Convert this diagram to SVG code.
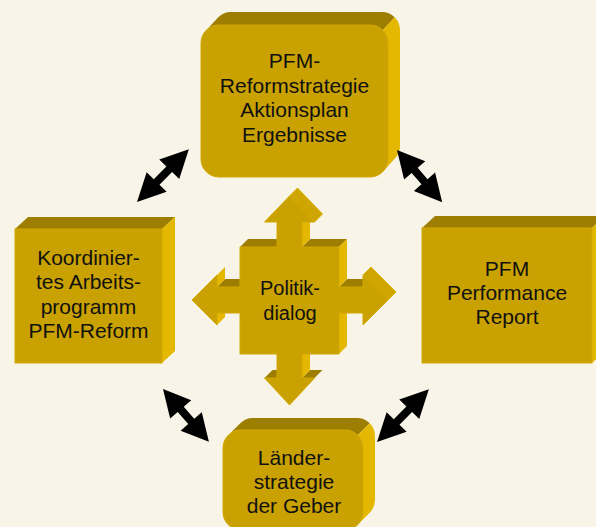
<svg xmlns="http://www.w3.org/2000/svg" width="596" height="527" viewBox="0 0 596 527">
<style>
.front{fill:#C9A100;stroke:#D2A800;stroke-width:1}
.top{fill:#9E7E00}
.side{fill:#E4B800}
.slant{fill:#CFA600;stroke:#DDB200;stroke-width:1}
.lbl{font-family:"Liberation Sans",Arial,sans-serif;font-size:21px;fill:#111;text-anchor:middle}
.dbl{fill:#000}
</style>
<rect width="596" height="527" fill="#F8F5E8"/>

<g id="node-reformstrategie">
<path class="top" d="M206.3,30.3 L218.3,17.3 A18,18 0 0 1 231,12 L382,12 A18,18 0 0 1 394.7,17.3 L382.7,30.3 A18,18 0 0 0 370,25 L219,25 A18,18 0 0 0 206.3,30.3 Z"/>
<path class="side" d="M382.7,30.3 L394.7,17.3 A18,18 0 0 1 400,30 L400,146 A18,18 0 0 1 394.7,158.7 L382.7,171.7 A18,18 0 0 0 388,159 L388,43 A18,18 0 0 0 382.7,30.3 Z"/>
<rect class="front" x="201" y="25" width="187" height="152" rx="18"/>
<text class="lbl" x="294.5" y="68">PFM-</text>
<text class="lbl" x="294.5" y="93">Reformstrategie</text>
<text class="lbl" x="294.5" y="117">Aktionsplan</text>
<text class="lbl" x="294.5" y="142">Ergebnisse</text>
</g>

<g id="node-arbeitsprogramm">
<polygon class="top" points="15,229 28,217 175,217 162,229"/>
<polygon class="side" points="162,229 175,217 175,351 162,363"/>
<rect class="front" x="15" y="229" width="147" height="134"/>
<text class="lbl" x="88.5" y="265">Koordinier-</text>
<text class="lbl" x="88.5" y="289">tes Arbeits-</text>
<text class="lbl" x="88.5" y="314">programm</text>
<text class="lbl" x="88.5" y="338">PFM-Reform</text>
</g>

<g id="node-performance-report">
<polygon class="top" points="422,228 435,216 605,216 592,228"/>
<polygon class="side" points="592,228 605,216 605,351 592,363"/>
<rect class="front" x="422" y="228" width="170" height="135"/>
<text class="lbl" x="507" y="275.5">PFM</text>
<text class="lbl" x="507" y="299.5">Performance</text>
<text class="lbl" x="507" y="323.5">Report</text>
</g>

<g id="node-laenderstrategie">
<path class="top" d="M228.3,435.3 L240.3,423.3 A18,18 0 0 1 253,418 L357,418 A18,18 0 0 1 369.7,423.3 L357.7,435.3 A18,18 0 0 0 345,430 L241,430 A18,18 0 0 0 228.3,435.3 Z"/>
<path class="side" d="M357.7,435.3 L369.7,423.3 A18,18 0 0 1 375,436 L375,500 A18,18 0 0 1 369.7,512.7 L357.7,524.7 A18,18 0 0 0 363,512 L363,448 A18,18 0 0 0 357.7,435.3 Z"/>
<rect class="front" x="223" y="430" width="140" height="100" rx="18"/>
<text class="lbl" x="294" y="465">Länder-</text>
<text class="lbl" x="294" y="489">strategie</text>
<text class="lbl" x="294" y="513">der Geber</text>
</g>

<g id="node-politikdialog">
<polygon class="top" points="302,247 339,247 347,239 310,239"/>
<polygon class="top" points="339,287 363,287 371,279 347,279"/>
<polygon class="top" points="302,378 314.5,378 322.5,370 310,370"/>
<polygon class="top" points="264.5,378 277,378 285,370 272.5,370"/>
<polygon class="top" points="217,287 240,287 248,279 225,279"/>
<polygon class="top" points="240,247 277,247 285,239 248,239"/>
<polygon class="side" points="302,222 302,247 310,239 310,214"/>
<polygon class="side" points="339,247 339,287 347,279 347,239"/>
<polygon class="side" points="339,313 339,354 347,346 347,305"/>
<polygon class="side" points="302,354 302,378 310,370 310,346"/>
<polygon class="side" points="217,313 217,325 225,317 225,305"/>
<polygon class="side" points="217,275 217,287 225,279 225,267"/>
<polygon class="slant" points="289.5,196 314.5,222 322.5,214 297.5,188"/>
<polygon class="slant" points="363,275 388,300 396,292 371,267"/>
<polygon class="front" points="289.5,196 314.5,222 302,222 302,247 339,247 339,287 363,287 363,275 388,300 363,325 363,313 339,313 339,354 302,354 302,378 314.5,378 289.5,405 264.5,378 277,378 277,354 240,354 240,313 217,313 217,325 192,300 217,275 217,287 240,287 240,247 277,247 277,222 264.5,222"/>
<text class="lbl" x="290" y="295" style="font-size:20px">Politik-</text>
<text class="lbl" x="290" y="320" style="font-size:20px">dialog</text>
</g>

<g id="connectors">
<polygon class="dbl" transform="translate(137,202) rotate(-45.5)" points="0,0 28,-14 28,-4 46,-4 46,-14 74,0 46,14 46,4 28,4 28,14"/>
<polygon class="dbl" transform="translate(397,150) rotate(49.1)" points="0,0 27,-14 27,-4 42,-4 42,-14 69,0 42,14 42,4 27,4 27,14"/>
<polygon class="dbl" transform="translate(163,389) rotate(49)" points="0,0 27,-14 27,-4 43,-4 43,-14 70,0 43,14 43,4 27,4 27,14"/>
<polygon class="dbl" transform="translate(377,442) rotate(-45.5)" points="0,0 28,-14 28,-4 46,-4 46,-14 74,0 46,14 46,4 28,4 28,14"/>
</g>
</svg>
